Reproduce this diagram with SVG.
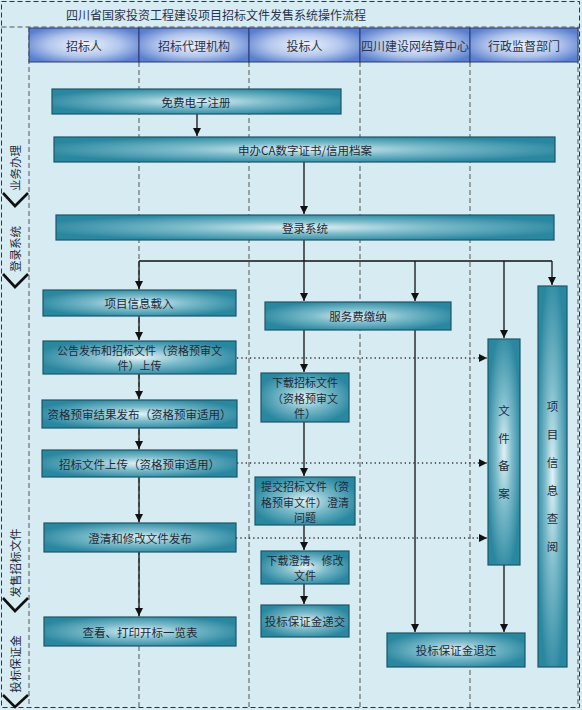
<svg xmlns="http://www.w3.org/2000/svg" width="582" height="710" viewBox="0 0 582 710">
<defs>
<radialGradient id="gBox" cx="0.5" cy="0.5" r="0.55">
<stop offset="0" stop-color="#e2f2f5"/>
<stop offset="0.45" stop-color="#7dbccb"/>
<stop offset="1" stop-color="#2a87a0"/>
</radialGradient>
<radialGradient id="gHead" cx="0.5" cy="0.5" r="0.6">
<stop offset="0" stop-color="#f0f4fb"/>
<stop offset="0.55" stop-color="#b2c6ec"/>
<stop offset="1" stop-color="#5b7fcf"/>
</radialGradient>
<marker id="arr" markerUnits="userSpaceOnUse" markerWidth="9" markerHeight="9" refX="8" refY="4" orient="auto">
<path d="M0,0 L8,4 L0,8 z" fill="#111"/>
</marker>
</defs>
<style>
.box{fill:url(#gBox);stroke:#1d5566;stroke-width:1.2}
.head{fill:url(#gHead);stroke:#2d3a70;stroke-width:1}
.t{font-family:"Noto Sans CJK SC","Noto Sans",sans-serif;font-size:11.5px;fill:#1f2a38;text-anchor:middle;dominant-baseline:central}
.m{font-size:11px}
.ht{font-family:"Noto Sans CJK SC","Noto Sans",sans-serif;font-size:12px;fill:#2a3350;text-anchor:middle;dominant-baseline:central}
.lane{stroke:#555;stroke-width:1;stroke-dasharray:5 3;fill:none}
.con{stroke:#111;stroke-width:1.3;fill:none}
.dot{stroke:#333;stroke-width:1.3;stroke-dasharray:1.3 3;fill:none}
.chev{stroke:#111;stroke-width:2.6;fill:none}
</style>
<rect x="0" y="0" width="582" height="710" fill="#d6ecf2"/>
<rect x="1.5" y="1.5" width="578" height="706" fill="none" stroke="#333" stroke-width="1" stroke-dasharray="5 3"/>
<line x1="1.5" y1="27" x2="579.5" y2="27" class="lane" stroke="#333"/>
<text class="ht" x="216" y="14">四川省国家投资工程建设项目招标文件发售系统操作流程</text>

<g id="lanes">
<line class="lane" x1="29" y1="27" x2="29" y2="708"/>
<line class="lane" x1="139" y1="62" x2="139" y2="708"/>
<line class="lane" x1="249" y1="62" x2="249" y2="708"/>
<line class="lane" x1="360" y1="62" x2="360" y2="708"/>
<line class="lane" x1="470" y1="62" x2="470" y2="708"/>
<line class="lane" x1="578" y1="27" x2="578" y2="708"/>
</g>

<g id="header">
<rect class="head" x="29" y="28" width="110" height="34"/>
<rect class="head" x="139" y="28" width="110" height="34"/>
<rect class="head" x="249" y="28" width="111" height="34"/>
<rect class="head" x="360" y="28" width="110" height="34"/>
<rect class="head" x="470" y="28" width="108" height="34"/>
<text class="ht" x="84" y="45">招标人</text>
<text class="ht" x="194" y="45">招标代理机构</text>
<text class="ht" x="304.5" y="45">投标人</text>
<text class="ht" x="415" y="45" font-size="11.5">四川建设网结算中心</text>
<text class="ht" x="524" y="45">行政监督部门</text>
</g>

<g id="phases">
<text class="t" transform="translate(15,168) rotate(-90)">业务办理</text>
<polyline class="chev" points="3,193 15,206 28,193"/>
<text class="t" transform="translate(15,249) rotate(-90)">登录系统</text>
<polyline class="chev" points="3,274 15,287 28,274"/>
<text class="t" transform="translate(15,563) rotate(-90)">发售招标文件</text>
<polyline class="chev" points="3,598 15,611 28,598"/>
<text class="t" transform="translate(15,664) rotate(-90)">投标保证金</text>
<polyline class="chev" points="3,695 15,707 28,695"/>
</g>

<g id="connectors">
<path class="con" d="M197,114 V136" marker-end="url(#arr)"/>
<path class="con" d="M304,162 V214" marker-end="url(#arr)"/>
<path class="con" d="M304,240 V301" marker-end="url(#arr)"/>
<path class="con" d="M139,261 H552"/>
<path class="con" d="M139,261 V289" marker-end="url(#arr)"/>
<path class="con" d="M415,261 V301" marker-end="url(#arr)"/>
<path class="con" d="M504,261 V338" marker-end="url(#arr)"/>
<path class="con" d="M552,261 V285" marker-end="url(#arr)"/>
<path class="con" d="M139,316 V340" marker-end="url(#arr)"/>
<path class="con" d="M139,374 V399" marker-end="url(#arr)"/>
<path class="con" d="M139,428 V449" marker-end="url(#arr)"/>
<path class="con" d="M139,477 V522" marker-end="url(#arr)"/>
<path class="con" d="M139,552 V616" marker-end="url(#arr)"/>
<path class="con" d="M304,330 V372" marker-end="url(#arr)"/>
<path class="con" d="M304,422 V476" marker-end="url(#arr)"/>
<path class="con" d="M304,525 V550" marker-end="url(#arr)"/>
<path class="con" d="M304,584 V604" marker-end="url(#arr)"/>
<path class="con" d="M415,330 V632" marker-end="url(#arr)"/>
<path class="con" d="M504,565 V632" marker-end="url(#arr)"/>
<path class="dot" d="M237,358 H487" marker-end="url(#arr)"/>
<path class="dot" d="M237,463 H487" marker-end="url(#arr)"/>
<path class="dot" d="M236,538 H487" marker-end="url(#arr)"/>
</g>

<g id="n-register"><rect class="box" x="52" y="89" width="289" height="25"/><text class="t" x="196" y="101.5" font-size="12.5">免费电子注册</text></g>
<g id="n-ca"><rect class="box" x="54" y="137" width="501" height="25"/><text class="t" x="305" y="149.5">申办CA数字证书/信用档案</text></g>
<g id="n-login"><rect class="box" x="56" y="215" width="498" height="25"/><text class="t" x="305" y="227.5">登录系统</text></g>
<g id="n-info"><rect class="box" x="43" y="290" width="193" height="26"/><text class="t" x="139" y="303">项目信息载入</text></g>
<g id="n-notice"><rect class="box" x="43" y="341" width="193" height="33"/><text class="t m" x="139.5" y="349.75">公告发布和招标文件（资格预审文</text><text class="t m" x="139.5" y="365.25">件）上传</text></g>
<g id="n-prequal"><rect class="box" x="42" y="400" width="195" height="28"/><text class="t" x="139.5" y="414">资格预审结果发布（资格预审适用）</text></g>
<g id="n-upload"><rect class="box" x="42" y="450" width="195" height="27"/><text class="t" x="139.5" y="463.5">招标文件上传（资格预审适用）</text></g>
<g id="n-clarify"><rect class="box" x="44" y="523" width="192" height="29"/><text class="t" x="140" y="537.5">澄清和修改文件发布</text></g>
<g id="n-print"><rect class="box" x="44" y="617" width="192" height="29"/><text class="t" x="140" y="631.5">查看、打印开标一览表</text></g>
<g id="n-fee"><rect class="box" x="265" y="302" width="186" height="28"/><text class="t" x="358" y="316">服务费缴纳</text></g>
<g id="n-download"><rect class="box" x="261" y="373" width="88" height="49"/><text class="t m" x="305" y="382">下载招标文件</text><text class="t m" x="305" y="397.5">（资格预审文</text><text class="t m" x="305" y="413">件）</text></g>
<g id="n-submit"><rect class="box" x="255" y="477" width="100" height="48"/><text class="t m" x="305" y="486">提交招标文件（资</text><text class="t m" x="305" y="501.5">格预审文件）澄清</text><text class="t m" x="305" y="517">问题</text></g>
<g id="n-dlclarify"><rect class="box" x="261" y="551" width="88" height="33"/><text class="t m" x="305" y="559.75">下载澄清、修改</text><text class="t m" x="305" y="575.25">文件</text></g>
<g id="n-deposit"><rect class="box" x="261" y="605" width="88" height="32"/><text class="t" x="305" y="621">投标保证金递交</text></g>
<g id="n-refund"><rect class="box" x="387" y="633" width="138" height="34"/><text class="t" x="456" y="650">投标保证金退还</text></g>
<g id="n-filing"><rect class="box" x="488" y="339" width="32" height="226"/><text class="t" x="504" y="410">文</text><text class="t" x="504" y="437.5">件</text><text class="t" x="504" y="465">备</text><text class="t" x="504" y="492.5">案</text></g>
<g id="n-lookup"><rect class="box" x="538" y="286" width="29" height="381"/><text class="t" x="552.5" y="406">项</text><text class="t" x="552.5" y="434">目</text><text class="t" x="552.5" y="462">信</text><text class="t" x="552.5" y="490">息</text><text class="t" x="552.5" y="518">查</text><text class="t" x="552.5" y="546">阅</text></g>
</svg>
